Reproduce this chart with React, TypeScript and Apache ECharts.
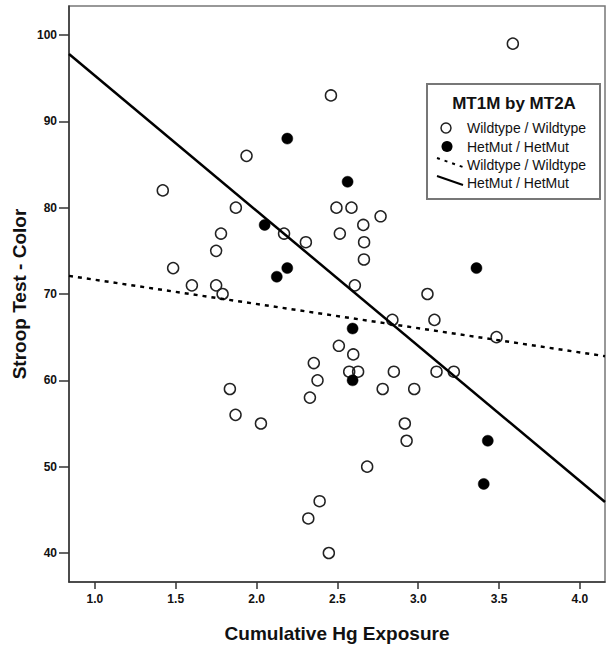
import React, { useEffect, useRef } from "react";
import * as echarts from "echarts";

const wildX = [1.42, 1.484, 1.6, 1.75, 1.75, 1.78, 1.79, 1.835, 1.87, 1.872, 1.938, 2.027, 2.17, 2.305, 2.32, 2.33, 2.354, 2.377, 2.39, 2.447, 2.46, 2.494, 2.509, 2.515, 2.573, 2.587, 2.598, 2.608, 2.628, 2.66, 2.664, 2.665, 2.684, 2.767, 2.78, 2.84, 2.849, 2.917, 2.928, 2.975, 3.057, 3.1, 3.113, 3.22, 3.484, 3.585];
const wildY = [82, 73, 71, 71, 75, 77, 70, 59, 56, 80, 86, 55, 77, 76, 44, 58, 62, 60, 46, 40, 93, 80, 64, 77, 61, 80, 63, 71, 61, 78, 74, 76, 50, 79, 59, 67, 61, 55, 53, 59, 70, 67, 61, 61, 65, 99];
const hetX = [2.05, 2.125, 2.19, 2.19, 2.563, 2.594, 2.594, 3.36, 3.405, 3.43];
const hetY = [78, 72, 73, 88, 83, 66, 60, 73, 48, 53];

const wildFitX = [0.84, 4.155];
const wildFitY = [72.1, 62.8];
const hetFitX = [0.84, 4.155];
const hetFitY = [97.8, 45.9];

const xTicks = [1.0, 1.5, 2.0, 2.5, 3.0, 3.5, 4.0];
const yTicks = [40, 50, 60, 70, 80, 90, 100];

const legendTitle = "MT1M by MT2A";
const legendLabels = ["Wildtype / Wildtype", "HetMut / HetMut", "Wildtype / Wildtype", "HetMut / HetMut"];

const FONT = "'Liberation Sans', Arial, sans-serif";

export default function App() {
  const ref = useRef<HTMLDivElement>(null);
  useEffect(() => {
    if (!ref.current) return;
    const chart = echarts.init(ref.current, null, { renderer: "svg" });
    const zip = (xs: number[], ys: number[]) => xs.map((x, i) => [x, ys[i]]);
    chart.setOption({
      animation: false,
      backgroundColor: "#ffffff",
      textStyle: { fontFamily: FONT },
      grid: {
        left: 69,
        right: 9,
        top: 6,
        bottom: 66,
        show: true,
        borderColor: "#777",
        borderWidth: 1.5,
        backgroundColor: "transparent",
      },
      xAxis: {
        type: "value",
        min: 0.84,
        max: 4.155,
        name: "Cumulative Hg Exposure",
        nameLocation: "middle",
        nameGap: 42,
        nameMoveOverlap: false,
        nameTextStyle: { fontFamily: FONT, fontSize: 19, fontWeight: "bold", color: "#111" },
        axisLine: { show: true, onZero: false, lineStyle: { color: "#333", width: 1.5 } },
        axisTick: { show: true, length: 7, customValues: xTicks, lineStyle: { color: "#333", width: 1.5 } },
        axisLabel: {
          customValues: xTicks,
          margin: 11,
          fontFamily: FONT,
          fontSize: 12,
          fontWeight: "bold",
          color: "#111",
          formatter: (v: number) => v.toFixed(1),
        },
        splitLine: { show: false },
      },
      yAxis: {
        type: "value",
        min: 36.64,
        max: 103.36,
        name: "Stroop Test - Color",
        nameLocation: "middle",
        nameGap: 40,
        nameMoveOverlap: false,
        nameTextStyle: { fontFamily: FONT, fontSize: 19, fontWeight: "bold", color: "#111" },
        axisLine: { show: true, onZero: false, lineStyle: { color: "#333", width: 1.5 } },
        axisTick: { show: true, length: 10, customValues: yTicks, lineStyle: { color: "#333", width: 1.5 } },
        axisLabel: {
          customValues: yTicks,
          margin: 12,
          fontFamily: FONT,
          fontSize: 12,
          fontWeight: "bold",
          color: "#111",
        },
        splitLine: { show: false },
      },
      series: [
        {
          type: "scatter",
          data: zip(wildX, wildY),
          symbol: "circle",
          symbolSize: 11,
          itemStyle: { color: "rgba(255,255,255,0)", borderColor: "#222", borderWidth: 1.5, opacity: 1 },
          z: 2,
        },
        {
          type: "scatter",
          data: zip(hetX, hetY),
          symbol: "circle",
          symbolSize: 11,
          itemStyle: { color: "#000", borderColor: "#000", borderWidth: 0.5, opacity: 1 },
          z: 2,
        },
        {
          type: "line",
          data: zip(wildFitX, wildFitY),
          showSymbol: false,
          symbol: "none",
          lineStyle: { color: "#000", width: 2.5, type: [4, 5] },
          z: 3,
        },
        {
          type: "line",
          data: zip(hetFitX, hetFitY),
          showSymbol: false,
          symbol: "none",
          lineStyle: { color: "#000", width: 2.5 },
          z: 3,
        },
      ],
      graphic: [
        {
          type: "rect",
          shape: { x: 427, y: 84, width: 173, height: 115 },
          style: { fill: "#fff", stroke: "#777", lineWidth: 2 },
          z: 10,
        },
        {
          type: "text",
          x: 514,
          y: 103,
          style: { text: legendTitle, font: `bold 17px ${FONT}`, fill: "#111", align: "center", verticalAlign: "middle" },
          z: 11,
        },
        {
          type: "circle",
          shape: { cx: 446, cy: 128, r: 5 },
          style: { fill: "none", stroke: "#222", lineWidth: 1.5 },
          z: 11,
        },
        {
          type: "circle",
          shape: { cx: 447, cy: 146.5, r: 5.5 },
          style: { fill: "#000" },
          z: 11,
        },
        {
          type: "line",
          shape: { x1: 437, y1: 158, x2: 463, y2: 167 },
          style: { stroke: "#000", lineWidth: 2, lineDash: [3, 5] },
          z: 11,
        },
        {
          type: "line",
          shape: { x1: 437, y1: 176, x2: 463, y2: 185 },
          style: { stroke: "#000", lineWidth: 2 },
          z: 11,
        },
        ...legendLabels.map((t, i) => ({
          type: "text",
          x: 467,
          y: [128, 146.5, 165, 182.5][i],
          style: { text: t, font: `14px ${FONT}`, fill: "#111", align: "left", verticalAlign: "middle" },
          z: 11,
        })),
      ],
    });
    return () => chart.dispose();
  }, []);
  return <div ref={ref} style={{ width: 614, height: 648, position: "absolute", left: 0, top: 0 }} />;
}
